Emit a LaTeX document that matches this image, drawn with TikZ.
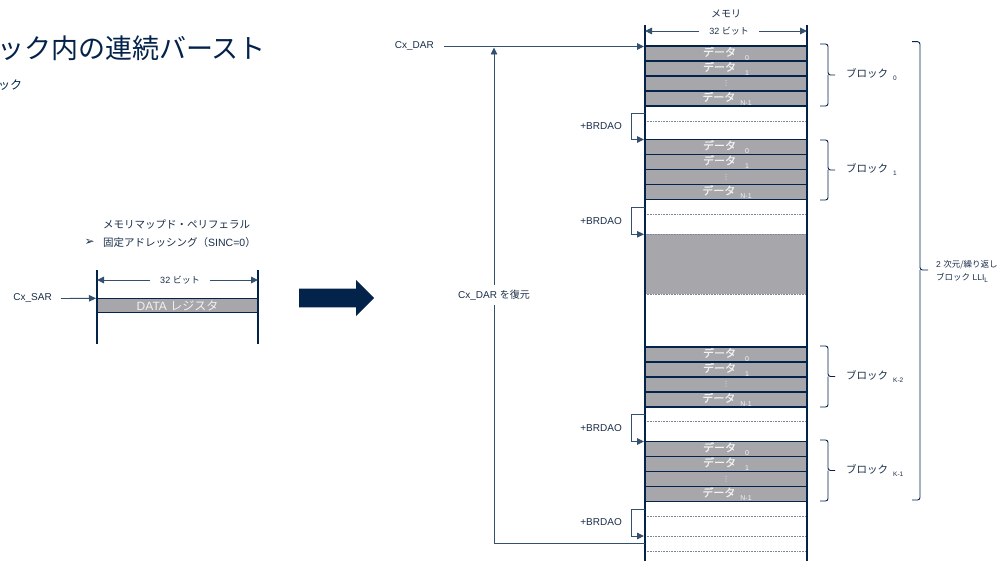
\documentclass[tikz,border=0pt]{standalone}
\usepackage{fontspec}
\setmainfont{Liberation Sans}
\newfontfamily\jp{Noto Sans CJK JP}
\newfontfamily\jpcell[FakeBold=0.6]{Noto Sans CJK JP}
\newfontfamily\lat{Liberation Sans}
\newfontfamily\dv{DejaVu Sans}
\usetikzlibrary{arrows.meta}
\definecolor{navy}{HTML}{03234B}
\definecolor{cellgray}{HTML}{A7A6AA}
\definecolor{celltext}{HTML}{F2F2F2}
\definecolor{thinline}{HTML}{34506F}
\definecolor{dashcol}{HTML}{7A8799}
\definecolor{labeltext}{HTML}{1A2E4A}
\newcommand\subtxt[2][-3pt]{\raisebox{#1}{\lat\fontsize{6.5}{7}\selectfont #2}}
\newcommand\datsub[1]{\raisebox{-4pt}{\lat\fontsize{7}{7}\selectfont #1}}
\newcommand\datlbl[2]{{\jpcell データ}\hspace{#2}\datsub{#1}}
\tikzset{
  memwall/.style={navy, line width=2pt},
  rowline/.style={navy, line width=1.1pt},
  dashrow/.style={dashcol, line width=0.7pt, dash pattern=on 1pt off 0.6pt},
  conn/.style={thinline, line width=0.9pt},
  tipped/.style={-{Triangle[length=7pt,width=6.5pt]}},
  lbl/.style={labeltext, font=\fontsize{10}{11}\selectfont, inner sep=0pt},
  celltxt/.style={celltext, font=\jpcell\fontsize{11}{11}\selectfont, inner sep=0pt},
  bracepath/.style={navy, line width=0.9pt, rounded corners=2.5pt},
  widthlbl/.style={labeltext, font=\fontsize{9}{10}\selectfont, inner xsep=10pt, inner ysep=0pt},
}
\begin{document}
\begin{tikzpicture}[x=1pt,y=-1pt]
\useasboundingbox (0,0) rectangle (1008,561);
\fill[white] (0,0) rectangle (1008,561);

% ---------- title ----------
\node[anchor=west, navy, font=\jp\fontsize{27}{30}\selectfont, inner sep=0pt] (title) at (-3,48) {ック内の連続バースト};
\node[anchor=west, navy, font=\jp\fontsize{12}{13}\selectfont, inner sep=0pt] (subtitle) at (-2,85) {ック};

% ---------- peripheral register ----------
\node[lbl, anchor=west, font=\jp\fontsize{10.5}{12}\selectfont] (periph) at (103,225) {メモリマップド・ペリフェラル};
\node[lbl, anchor=east, font=\dv\fontsize{12}{12}\selectfont] (bullet) at (95,242.7) {➢};
\node[lbl, anchor=west, font=\fontsize{10.5}{12}\selectfont] (fixed) at (103,242.7) {{\jp 固定アドレッシング（}SINC=0{\jp ）}};

\fill[cellgray] (97,298.3) rectangle (258,312.7);
\node[celltxt, font=\fontsize{12}{12}\selectfont] (datareg) at (177.5,305.6) {DATA {\jp レジスタ}};
\draw[rowline] (97,298.3) -- (258,298.3);
\draw[rowline] (97,312.7) -- (258,312.7);
\draw[memwall] (97,270) -- (97,344);
\draw[memwall] (258,270) -- (258,344);
\coordinate (regL) at (97,280);
\coordinate (regR) at (258,280);
\node[widthlbl] (regw) at (180,280) {32 {\jp ビット}};
\draw[conn, tipped] (regw.west) -- (regL);
\draw[conn, tipped] (regw.east) -- (regR);
\node[lbl, anchor=east] (cxsar) at (52,298.5) {Cx\_SAR};
\coordinate (sartgt) at (96,298.3);
\draw[conn, tipped] ([xshift=9pt]cxsar.east) -- (sartgt);

% ---------- big arrow ----------
\fill[navy] (299,288.5) -- (356,288.5) -- (356,280) -- (374,298) -- (356,316) -- (356,307.3) -- (299,307.3) -- cycle;

% ---------- memory ----------
\def\ML{645}\def\MR{807}\def\MC{726}
% data blocks
\foreach \T/\nm in {46/a,139.5/b,347/c,441.5/d}{
  \fill[cellgray] (\ML,\T) rectangle (\MR,\T+60);
  \node[celltxt] (\nm0) at (\MC,\T+7.5) {\datlbl{0}{9pt}};
  \node[celltxt] (\nm1) at (\MC,\T+22.5) {\datlbl{1}{9pt}};
  \node[celltxt, font=\dv\fontsize{7}{7}\selectfont] (\nm2) at (\MC,\T+37.5) {⋮};
  \node[celltxt] (\nm3) at (\MC+1,\T+52.5) {\datlbl{N-1}{5pt}};
  \foreach \i in {0,15,30,45,60}{
    \draw[rowline] (\ML,\T+\i) -- (\MR,\T+\i);
  }
}
\fill[cellgray] (\ML,234.3) rectangle (\MR,294);
\foreach \y in {121,214.3,234.3,294,421.5,516,536,551}{
  \draw[dashrow] (\ML,\y) -- (\MR,\y);
}
% walls
\draw[memwall] (\ML,25) -- (\ML,561);
\draw[memwall] (\MR,25) -- (\MR,561);

% header
\node[lbl, font=\jp\fontsize{10}{11}\selectfont] (memlbl) at (\MC,14) {メモリ};
\coordinate (memL) at (\ML,31);
\coordinate (memR) at (\MR,31);
\node[widthlbl] (memw) at (729,31) {32 {\jp ビット}};
\draw[conn, tipped] (memw.west) -- (memL);
\draw[conn, tipped] (memw.east) -- (memR);

% Cx_DAR
\node[lbl, anchor=east] (cxdar) at (434,46.5) {Cx\_DAR};
\coordinate (dartgt) at (644,46.5);
\draw[conn, tipped] ([xshift=10pt]cxdar.east) -- (dartgt);
\coordinate (retstart) at (\ML,543);
\coordinate (rettop) at (494,47.5);
\draw[conn, tipped] (retstart) -| (rettop);
\node[lbl, fill=white, inner xsep=2pt, inner ysep=5pt] (restore) at (494,295) {Cx\_DAR {\jp を復元}};

% +BRDAO brackets
\foreach \a/\b/\k in {113/139.5/1,207/234.3/2,414.5/441.5/3,509/536/4}{
  \coordinate (bra\k) at (\ML,\a);
  \coordinate (brb\k) at (644,\b);
  \draw[conn, tipped] (bra\k) -- ++(-14,0) |- (brb\k);
  \node[lbl, anchor=east] (brl\k) at (622,{(\a+\b)/2}) {+BRDAO};
}

% block braces
\foreach \a/\b/\s/\k in {44/106/0/0,140/200/1/1,346/407/K-2/2,440/501/K-1/3}{
  \draw[bracepath] (820,\a) -- (828,\a) -- (828,{(\a+\b)/2}) -- (835,{(\a+\b)/2});
  \draw[bracepath] (828,{(\a+\b)/2}) -- (828,\b) -- (820,\b);
  \node[lbl, anchor=west, font=\jp\fontsize{10.5}{12}\selectfont] (blk\k) at (846,{(\a+\b)/2}) {ブロック\hspace{5pt}\subtxt{\s}};
}
% big brace
\draw[bracepath] (912,41.7) -- (920,41.7) -- (920,270) -- (928,270);
\draw[bracepath] (920,270) -- (920,500) -- (912,500);
\node[lbl, anchor=west, font=\fontsize{8.5}{10}\selectfont] (lli1) at (936,265) {2 {\jp 次元/繰り返し}};
\node[lbl, anchor=west, font=\fontsize{8.5}{10}\selectfont] (lli2) at (936,278) {{\jp ブロック} LLI\subtxt[-2pt]{L}};
\end{tikzpicture}
\end{document}
